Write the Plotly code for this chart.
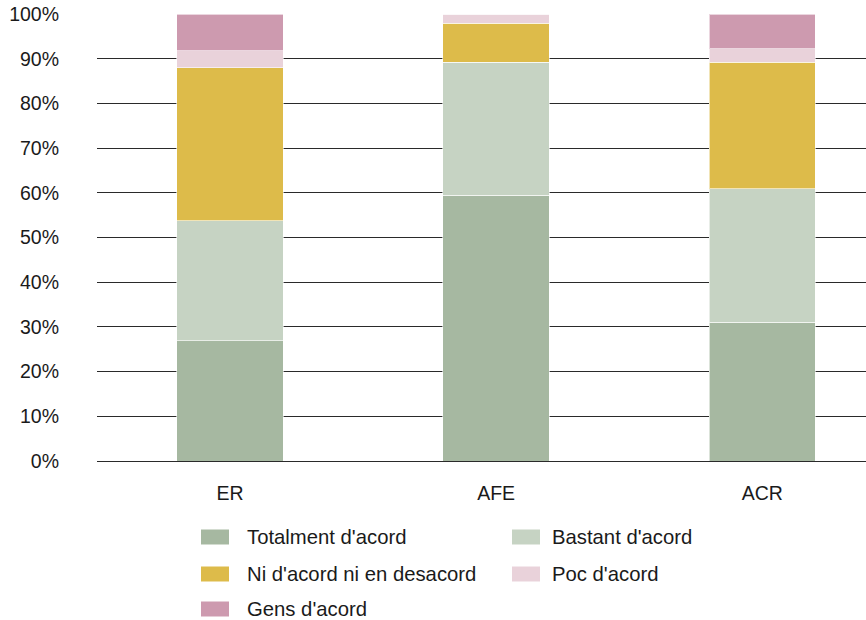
import plotly.graph_objects as go

# Survey responses by group (share of respondents, %)
groups = ["ER", "AFE", "ACR"]
series_names = [
    "Totalment d'acord",
    "Bastant d'acord",
    "Ni d'acord ni en desacord",
    "Poc d'acord",
    "Gens d'acord",
]
totalment = [26.9, 59.4, 31.0]
bastant = [26.8, 29.8, 29.9]
ni_ni = [34.3, 8.7, 28.3]
poc = [3.8, 2.1, 3.0]
gens = [8.2, 0.0, 7.8]
y_ticks = [0, 10, 20, 30, 40, 50, 60, 70, 80, 90, 100]

colors = ["#a6b8a1", "#c6d3c3", "#ddbb4a", "#e9d2da", "#cd9aaf"]
values = [totalment, bastant, ni_ni, poc, gens]

FONT = "Liberation Sans, Arial, sans-serif"
TEXT = "#1a1a1a"
FS = 19.5
FS_LEG = 20.3

fig = go.Figure()
for name, vals, col in zip(series_names, values, colors):
    fig.add_trace(go.Bar(
        x=groups, y=vals, name=name, width=0.4,
        marker=dict(color=col, line=dict(color="rgba(255,255,255,0.6)", width=1)),
        showlegend=False,
    ))

# Two-column legend under the plot
W, H = 866, 620
ML, MT, MB = 97, 14, 159
PW, PH = W - ML, H - MT - MB
legend_rows = [(0, 0), (0, 1), (1, 0), (1, 1), (2, 0)]
row_y = [537, 574, 609]
swatch_x = [201, 512]
text_x = [247, 552]
shapes = []
annotations = []
for (r, c), name, col in zip(legend_rows, series_names, colors):
    yc = row_y[r]
    shapes.append(dict(
        type="rect", xref="paper", yref="paper", layer="above",
        x0=(swatch_x[c] - ML) / PW, x1=(swatch_x[c] + 28 - ML) / PW,
        y0=(H - MB - (yc + 7.5)) / PH, y1=(H - MB - (yc - 7.5)) / PH,
        fillcolor=col, line=dict(width=0),
    ))
    annotations.append(dict(
        xref="paper", yref="paper", showarrow=False,
        x=(text_x[c] - 2 - ML) / PW, y=(H - MB - yc) / PH,
        xanchor="left", yanchor="middle", text=name,
        font=dict(family=FONT, size=FS_LEG, color=TEXT),
    ))

fig.update_layout(
    width=W, height=H,
    barmode="stack",
    plot_bgcolor="white", paper_bgcolor="white",
    margin=dict(l=ML, r=0, t=MT, b=MB),
    shapes=shapes, annotations=annotations,
    font=dict(family=FONT, size=FS, color=TEXT),
)
fig.update_xaxes(
    range=[-0.5, 2.39], showgrid=False, showline=False, zeroline=False,
    ticks="", ticklabelstandoff=18,
    tickfont=dict(family=FONT, size=FS, color=TEXT),
)
fig.update_yaxes(
    range=[0, 100], tickvals=y_ticks, ticktext=[f"{v}%" for v in y_ticks],
    showgrid=True, gridcolor="#2a2a2a", gridwidth=1,
    zeroline=True, zerolinecolor="#2a2a2a", zerolinewidth=1,
    showline=False, ticks="", ticklabelstandoff=37,
    tickfont=dict(family=FONT, size=FS, color=TEXT),
)

fig.write_html("out.html")
